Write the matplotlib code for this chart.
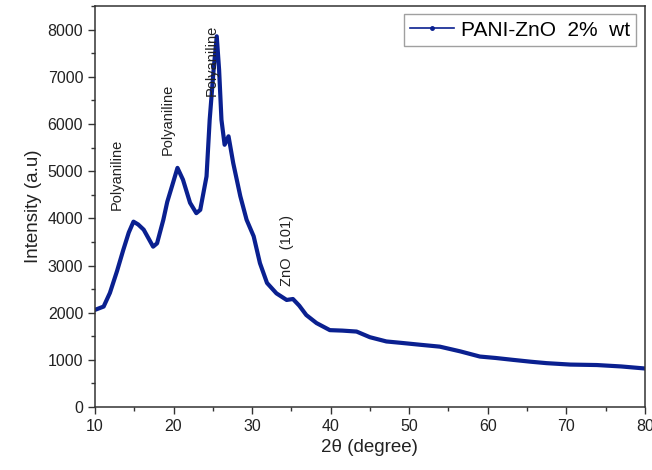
import matplotlib
matplotlib.use("Agg")
import matplotlib.pyplot as plt
from matplotlib.ticker import MultipleLocator

plt.rcParams["font.family"] = ["Liberation Sans", "DejaVu Sans"]

# XRD pattern
two_theta = [
    10.0, 11.1, 11.9, 12.8, 13.6, 14.3, 14.9, 15.5, 16.2, 16.8, 17.4, 17.9,
    18.7, 19.2, 19.8, 20.5, 21.2, 22.1, 22.9, 23.4, 24.2, 24.6, 25.1, 25.5,
    25.8, 26.1, 26.5, 27.0, 27.6, 28.5, 29.3, 30.2, 31.0, 31.9, 33.1, 34.4,
    35.2, 36.0, 36.9, 38.2, 39.9, 41.5, 43.3, 45.0, 47.1, 49.0, 51.4, 53.9,
    56.5, 59.0, 61.0, 63.2, 65.5, 67.5, 70.5, 73.9, 77.0, 79.8,
]
intensity = [
    2060, 2130, 2420, 2880, 3330, 3700, 3930, 3870, 3760, 3580, 3400, 3470,
    3970, 4350, 4680, 5070, 4820, 4330, 4110, 4180, 4890, 6090, 7150, 7860,
    7150, 6090, 5560, 5740, 5170, 4470, 3970, 3620, 3050, 2630, 2410, 2270,
    2290, 2150, 1950, 1780, 1630, 1620, 1600, 1480, 1390, 1360, 1320, 1280,
    1180, 1070, 1040, 1000, 960, 930, 900, 890, 860, 820,
]

labels = ["Polyaniline", "Polyaniline", "Polyaniline", "ZnO  (101)"]
label_x = [12.8, 19.2, 24.85, 34.4]
label_y = [4930, 6090, 7350, 3310]

fig = plt.figure(figsize=(6.52, 4.70), dpi=100)
ax = fig.add_axes([0.1457, 0.134, 0.8433, 0.853])

ax.plot(two_theta, intensity, color="#0a2090", linewidth=3.0,
        label="PANI-ZnO  2%  wt", solid_joinstyle="round")

for txt, x, y in zip(labels, label_x, label_y):
    ax.text(x, y, txt, rotation=90, ha="center", va="center",
            fontsize=10.5, color="#222222")

ax.set_xlim(10, 80)
ax.set_ylim(0, 8500)
ax.xaxis.set_major_locator(MultipleLocator(10))
ax.xaxis.set_minor_locator(MultipleLocator(5))
ax.yaxis.set_major_locator(MultipleLocator(1000))
ax.yaxis.set_minor_locator(MultipleLocator(500))
ax.tick_params(which="major", direction="out", length=5, width=1.0,
               labelsize=11.5, colors="#333333", labelcolor="#222222")
ax.tick_params(which="minor", direction="out", length=3, width=1.0,
               colors="#333333")
for sp in ax.spines.values():
    sp.set_linewidth(1.1)
    sp.set_color("#333333")

ax.set_xlabel("2\u03b8 (degree)", fontsize=13.5, color="#222222")
ax.set_ylabel("Intensity (a.u)", fontsize=13.5, color="#222222")

leg = ax.legend(loc="upper right", fontsize=15, fancybox=False,
                edgecolor="#888888", handlelength=2.1, handletextpad=0.35,
                borderpad=0.3, borderaxespad=0.4)
leg.get_frame().set_linewidth(1.0)
leg.get_lines()[0].set_linewidth(1.2)
leg.get_lines()[0].set_marker("o")
leg.get_lines()[0].set_markersize(2.5)

fig.savefig("out.png", dpi=100)
